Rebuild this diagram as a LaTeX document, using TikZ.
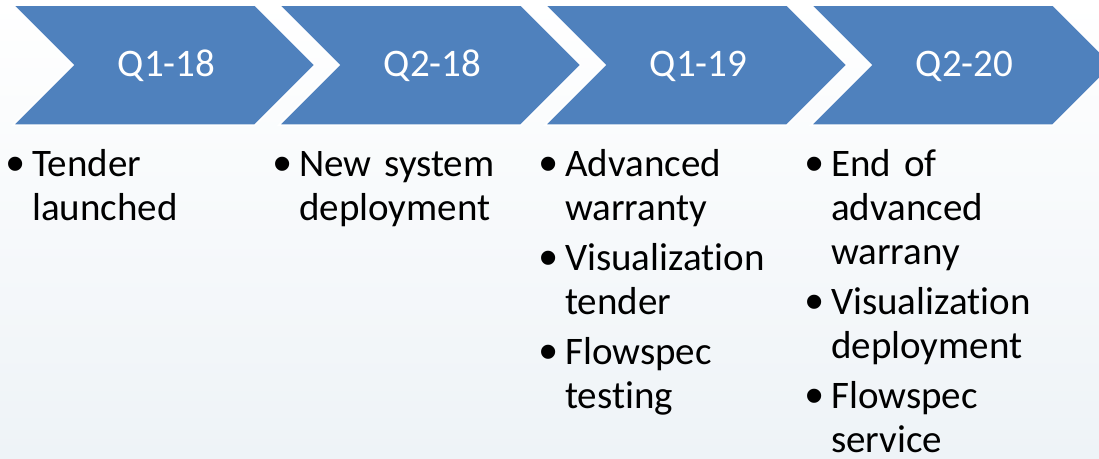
\documentclass[tikz,border=0pt]{standalone}
\usepackage{fontspec}
\setmainfont{Carlito}[Ligatures=NoCommon]
\newfontfamily\bulletfont{Liberation Sans}
\usepackage{tikz}

\definecolor{chevblue}{RGB}{79,129,189}
\definecolor{paper}{RGB}{238,243,247}

\begin{document}
\begin{tikzpicture}[
            x=1pt, y=-1pt,
            declare function={
                Pitch=266;
                Len=242;
                Tip=60;
                Top=5;
                LabelX=166.5;
                LabelY=76;
                Gap=16;
            },
            chevron/.style={fill=chevblue, draw=white, line width=1.5pt},
            quarter/.style={anchor=base, text=white, inner sep=0pt, font=\fontsize{39}{44}\selectfont},
            entry/.style={anchor=base west, align=left, text width=260pt, inner sep=0pt, font=\fontsize{39}{44}\selectfont},
            dot/.style={anchor=base, inner sep=0pt, yshift=-5pt, font=\bulletfont\fontsize{52}{44}\selectfont}
        ]
            \useasboundingbox (0, 0) rectangle (1099, 458);
            \clip (0, 0) rectangle (1099, 458);
            \fill[top color=white, bottom color=paper] (0, 0) rectangle (1099, 458);

            \path[chevron] (13, Top) -- ++(Len, 0) -- ++(Tip, Tip) -- ++({-Tip}, Tip) -- ++({-Len}, 0) -- ++(Tip, {-Tip}) -- cycle;
            \path[chevron] ({13 + Pitch}, Top) -- ++(Len, 0) -- ++(Tip, Tip) -- ++({-Tip}, Tip) -- ++({-Len}, 0) -- ++(Tip, {-Tip}) -- cycle;
            \path[chevron] ({13 + 2*Pitch}, Top) -- ++(Len, 0) -- ++(Tip, Tip) -- ++({-Tip}, Tip) -- ++({-Len}, 0) -- ++(Tip, {-Tip}) -- cycle;
            \path[chevron] ({13 + 3*Pitch}, Top) -- ++(Len, 0) -- ++(Tip, Tip) -- ++({-Tip}, Tip) -- ++({-Len}, 0) -- ++(Tip, {-Tip}) -- cycle;

            \node[quarter] (Quarter1) at (LabelX, LabelY) {Q1-18};
            \node[quarter] (Quarter2) at ({LabelX + Pitch}, LabelY) {Q2-18};
            \node[quarter] (Quarter3) at ({LabelX + 2*Pitch}, LabelY) {Q1-19};
            \node[quarter] (Quarter4) at ({LabelX + 3*Pitch}, LabelY) {Q2-20};

            % what happens in each quarter
            \node[entry] (Tender) at (32, 176) {Tender\\launched};
            \node[dot] (TenderDot) at ([xshift=-Gap]Tender.base west) {•};

            \node[entry] (Deploy) at (299, 176) {New system\\deployment};
            \node[dot] (DeployDot) at ([xshift=-Gap]Deploy.base west) {•};

            \node[entry] (Warranty) at (565, 176) {Advanced\\warranty};
            \node[dot] (WarrantyDot) at ([xshift=-Gap]Warranty.base west) {•};
            \node[entry] (VisTender) at (565, 270) {Visualization\\tender};
            \node[dot] (VisTenderDot) at ([xshift=-Gap]VisTender.base west) {•};
            \node[entry] (FlowTest) at (565, 364) {Flowspec\\testing};
            \node[dot] (FlowTestDot) at ([xshift=-Gap]FlowTest.base west) {•};

            \node[entry] (WarrantyEnd) at (831, 176) {End of\\advanced\\warrany};
            \node[dot] (WarrantyEndDot) at ([xshift=-Gap]WarrantyEnd.base west) {•};
            \node[entry] (VisDeploy) at (831, 314) {Visualization\\deployment};
            \node[dot] (VisDeployDot) at ([xshift=-Gap]VisDeploy.base west) {•};
            \node[entry] (FlowService) at (831, 408) {Flowspec\\service};
            \node[dot] (FlowServiceDot) at ([xshift=-Gap]FlowService.base west) {•};
        \end{tikzpicture}
\end{document}
